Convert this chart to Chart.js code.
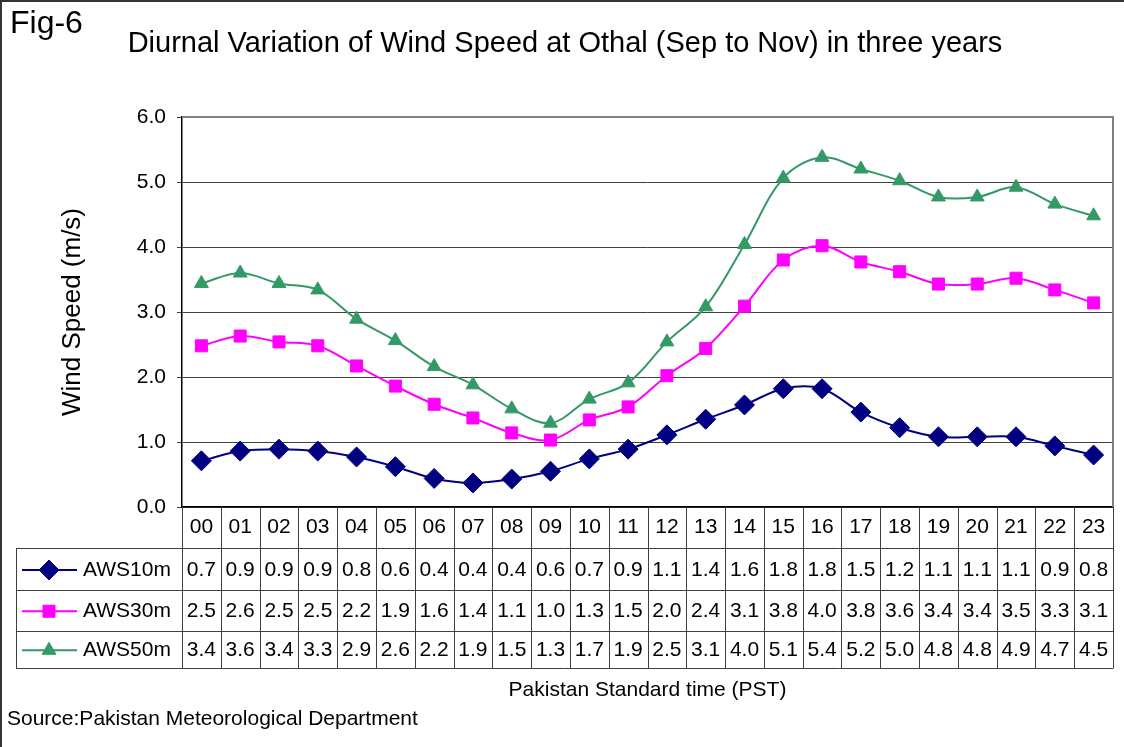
<!DOCTYPE html>
<html><head><meta charset="utf-8">
<script src="https://cdn.jsdelivr.net/npm/chart.js@4.4.0/dist/chart.umd.min.js"></script>
<style>
html,body{margin:0;padding:0;background:#fff;}
#wrap{position:relative;width:1124px;height:747px;overflow:hidden;font-family:"Liberation Sans",Arial,sans-serif;color:#000;}
#wrap canvas{position:absolute;left:0;top:0;}
.frameL{position:absolute;left:0;top:0;width:2px;height:747px;background:#333;}
.frameT{position:absolute;left:0;top:0;width:1124px;height:2px;background:#333;}
#fig{position:absolute;left:10px;top:4px;font-size:32px;line-height:36px;white-space:nowrap;}
#ttl{position:absolute;left:0;top:25px;width:1130px;text-align:center;font-size:29px;line-height:34px;white-space:nowrap;}
#src{position:absolute;left:7px;top:706px;font-size:21px;line-height:24px;white-space:nowrap;}
</style></head>
<body>
<div id="wrap">
<canvas id="c" width="1124" height="747"></canvas>
<div class="frameL"></div><div class="frameT"></div>
<div id="fig">Fig-6</div>
<div id="ttl"></div>
<div id="src">Source:Pakistan Meteorological Department</div>
</div>
<script>
const hours = ['00','01','02','03','04','05','06','07','08','09','10','11','12','13','14','15','16','17','18','19','20','21','22','23'];
const seriesNames = ['AWS10m','AWS30m','AWS50m'];
const aws10 = [0.71,0.86,0.89,0.86,0.77,0.62,0.44,0.37,0.43,0.55,0.74,0.89,1.11,1.35,1.57,1.82,1.82,1.46,1.22,1.08,1.08,1.08,0.94,0.80];
const aws30 = [2.48,2.63,2.54,2.48,2.17,1.86,1.58,1.37,1.14,1.03,1.34,1.54,2.02,2.44,3.09,3.80,4.02,3.77,3.62,3.43,3.43,3.52,3.34,3.14];
const aws50 = [3.44,3.60,3.44,3.34,2.89,2.56,2.16,1.88,1.51,1.29,1.66,1.91,2.54,3.08,4.04,5.06,5.38,5.20,5.02,4.77,4.77,4.92,4.66,4.48];
const aws10Table = ['0.7','0.9','0.9','0.9','0.8','0.6','0.4','0.4','0.4','0.6','0.7','0.9','1.1','1.4','1.6','1.8','1.8','1.5','1.2','1.1','1.1','1.1','0.9','0.8'];
const aws30Table = ['2.5','2.6','2.5','2.5','2.2','1.9','1.6','1.4','1.1','1.0','1.3','1.5','2.0','2.4','3.1','3.8','4.0','3.8','3.6','3.4','3.4','3.5','3.3','3.1'];
const aws50Table = ['3.4','3.6','3.4','3.3','2.9','2.6','2.2','1.9','1.5','1.3','1.7','1.9','2.5','3.1','4.0','5.1','5.4','5.2','5.0','4.8','4.8','4.9','4.7','4.5'];
const titleText = 'Diurnal Variation of Wind Speed at Othal (Sep to Nov) in three years';
const yTitle = 'Wind Speed (m/s)';
const xTitle = 'Pakistan Standard time (PST)';

document.getElementById('ttl').textContent = titleText;

const FONT = '"Liberation Sans", Arial, sans-serif';
Chart.defaults.font.family = FONT;
Chart.defaults.color = '#000';

const tableValues = [aws10Table, aws30Table, aws50Table];

const framePlugin = {
  id: 'frame',
  beforeDatasetsDraw(chart) {
    const {ctx, chartArea: ca} = chart;
    ctx.save();
    ctx.strokeStyle = '#808080';
    ctx.lineWidth = 2;
    ctx.beginPath();
    ctx.moveTo(ca.left, ca.top);
    ctx.lineTo(ca.right, ca.top);
    ctx.lineTo(ca.right, ca.bottom);
    ctx.stroke();
    ctx.restore();
  }
};

const tablePlugin = {
  id: 'dataTable',
  afterDraw(chart) {
    const {ctx, chartArea: ca, scales: {x}} = chart;
    const w = x.getPixelForValue(1) - x.getPixelForValue(0);
    const top = ca.bottom;
    const rows = [top, top + 41, top + 83, top + 123.5, top + 161];
    const legL = 16;
    ctx.save();
    ctx.strokeStyle = '#404040';
    ctx.lineWidth = 1;
    ctx.beginPath();
    for (let r = 1; r < rows.length; r++) {
      const yy = Math.round(rows[r]) + 0.5;
      ctx.moveTo(legL, yy); ctx.lineTo(ca.right, yy);
    }
    for (let i = 0; i <= hours.length; i++) {
      const px = i < hours.length ? x.getPixelForValue(i) - w / 2 : ca.right;
      const xx = Math.round(px) + 0.5;
      ctx.moveTo(xx, rows[0]); ctx.lineTo(xx, Math.round(rows[4]) + 0.5);
    }
    ctx.moveTo(legL + 0.5, Math.round(rows[1]) + 0.5);
    ctx.lineTo(legL + 0.5, Math.round(rows[4]) + 0.5);
    ctx.stroke();

    chart.data.datasets.forEach((ds, k) => {
      const yc = (rows[k + 1] + rows[k + 2]) / 2 + 1;
      ctx.strokeStyle = ds.borderColor;
      ctx.lineWidth = 2;
      ctx.beginPath();
      ctx.moveTo(22, yc); ctx.lineTo(77, yc);
      ctx.stroke();
      ctx.fillStyle = ds.backgroundColor;
      ctx.strokeStyle = ds.borderColor;
      ctx.lineWidth = 1;
      Chart.helpers.drawPoint(ctx, {pointStyle: ds.pointStyle, radius: ds.pointRadius, rotation: 0, borderWidth: 1}, 49, yc);
      ctx.fillStyle = '#000';
      ctx.font = '21px ' + FONT;
      ctx.textBaseline = 'middle';
      ctx.textAlign = 'left';
      ctx.fillText(seriesNames[k], 83, yc);
      ctx.textAlign = 'center';
      tableValues[k].forEach((t, i) => {
        ctx.fillText(t, x.getPixelForValue(i), yc);
      });
    });
    ctx.restore();
  }
};

new Chart(document.getElementById('c'), {
  type: 'line',
  data: {
    labels: hours,
    datasets: [
      {label: seriesNames[0], data: aws10, borderColor: '#000080', backgroundColor: '#000080', pointStyle: 'rectRot', pointRadius: 10, pointBorderWidth: 1, borderWidth: 2, tension: 0.35},
      {label: seriesNames[1], data: aws30, borderColor: '#FF00FF', backgroundColor: '#FF00FF', pointStyle: 'rect', pointRadius: 8.5, pointBorderWidth: 1, borderWidth: 2, tension: 0.35},
      {label: seriesNames[2], data: aws50, borderColor: '#339966', backgroundColor: '#339966', pointStyle: 'triangle', pointRadius: 8, pointBorderWidth: 1, borderWidth: 2, tension: 0.35}
    ]
  },
  options: {
    responsive: false,
    animation: false,
    devicePixelRatio: 1,
    layout: {padding: {left: 0, right: 11, top: 117, bottom: 0}},
    plugins: {
      legend: {display: false},
      tooltip: {enabled: false},
      title: {display: false}
    },
    scales: {
      x: {
        type: 'category',
        offset: true,
        grid: {drawOnChartArea: false, drawTicks: false},
        border: {display: true, color: '#000', width: 1.5},
        ticks: {font: {size: 21}, color: '#000', padding: 8, maxRotation: 0, autoSkip: false},
        title: {display: true, text: xTitle, color: '#000', font: {size: 21}, padding: {top: 0, bottom: 44}},
        afterFit(s) { s.height = 240; }
      },
      y: {
        min: 0, max: 6,
        ticks: {stepSize: 1, font: {size: 21}, color: '#000', padding: 11, callback: v => Number(v).toFixed(1)},
        grid: {color: '#404040', lineWidth: 1, tickLength: 5, drawTicks: true},
        border: {display: true, color: '#000', width: 1.5},
        title: {display: true, text: yTitle, color: '#000', font: {size: 26}, padding: {top: 57, bottom: 0}},
        afterFit(s) { s.width = 182; }
      }
    }
  },
  plugins: [framePlugin, tablePlugin]
});
</script>
</body></html>
